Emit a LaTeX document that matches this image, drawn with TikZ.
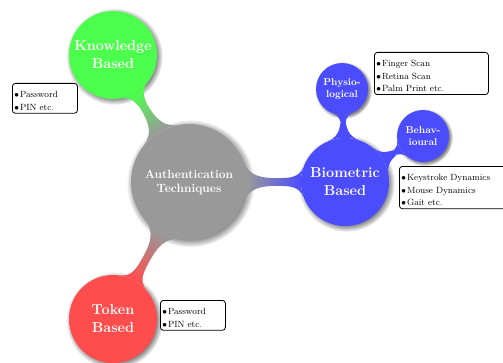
\documentclass[tikz,border=0pt]{standalone}
\usetikzlibrary{mindmap,shadows}

\tikzset{
  bubble/.style={circle, circular drop shadow, text=white, align=center, inner sep=0pt},
  rootbubble/.style={bubble, fill=gray!80, minimum size=116pt,
    font=\large\bfseries},
  mainbubble/.style={bubble, minimum size=88pt, font=\Large\bfseries},
  subbubble/.style={bubble, fill=blue!70, minimum size=52pt,
    font=\normalsize\bfseries},
  infobox/.style={draw, thick, rounded corners=3pt, fill=white, align=left,
    inner xsep=2pt, inner ysep=3pt, font=\fontsize{9}{12.3}\selectfont},
  bar/.style args={#1 to #2}{circle connection bar switch color=from (#1) to (#2)},
}
\newcommand{\itm}{$\bullet$\hspace{1pt}}
\newcommand{\firstitm}{\rule{0pt}{11.5pt}\itm}

\begin{document}
\begin{tikzpicture}[x=1pt,y=1pt]
  \useasboundingbox (0,0) rectangle (503,362);

  % concepts
  \node[rootbubble] (auth) at (189,180) {Authentication\\Techniques};
  \node[mainbubble, fill=green!70] (know) at (113,307) {Knowledge\\Based};
  \node[mainbubble, fill=blue!70] (bio) at (345,180) {Biometric\\Based};
  \node[mainbubble, fill=red!70] (token) at (113,43) {Token\\Based};
  \node[subbubble] (physio) at (342,273) {Physio-\\logical};
  \node[subbubble] (behav) at (423,226) {Behav-\\ioural};

  % bars between concepts
  \path (auth) to[bar=gray!80 to green!70] (know);
  \path (auth) to[bar=gray!80 to blue!70] (bio);
  \path (auth) to[bar=gray!80 to red!70] (token);
  \path (bio) to[bar=blue!70 to blue!70] (physio);
  \path (bio) to[bar=blue!70 to blue!70] (behav);

  % examples
  \node[infobox, text width=61pt, anchor=north west] (knowex) at (12,279)
    {\firstitm Password\\\itm PIN etc.};
  \node[infobox, text width=61pt, anchor=north west] (tokenex) at (160,62)
    {\firstitm Password\\\itm PIN etc.};
  \node[infobox, text width=110pt, anchor=north west] (physioex) at (374,310)
    {\firstitm Finger Scan\\\itm Retina Scan\\\itm Palm Print etc.};
  \node[infobox, text width=110pt, anchor=north west] (behavex) at (399,196)
    {\firstitm Keystroke Dynamics\\\itm Mouse Dynamics\\\itm Gait etc.};
\end{tikzpicture}
\end{document}
